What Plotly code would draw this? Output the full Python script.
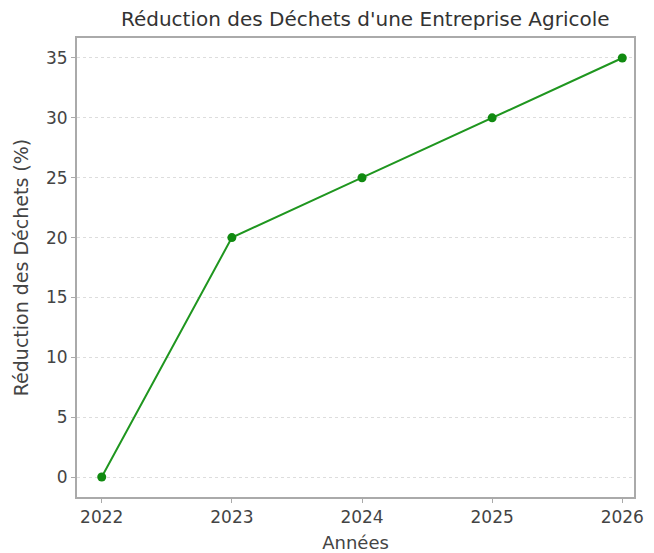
import plotly.graph_objects as go

annees = [2022, 2023, 2024, 2025, 2026]
reduction = [0, 20, 25, 30, 35]
y_ticks = [0, 5, 10, 15, 20, 25, 30, 35]

fig = go.Figure()

fig.add_trace(go.Scatter(x=annees, y=reduction,
                         mode='lines+markers', name='Réduction',
                         line=dict(color='#1f961f', width=2),
                         marker=dict(color='#108a10', size=9)))

# la page ajoute 8px de marge au body : on compense
fig.update_layout(
    title=dict(text="Réduction des Déchets d'une Entreprise Agricole",
               x=0.553, xanchor='center', y=0.979, yanchor='middle',
               font=dict(size=20, color='#333333')),
    width=646, height=545,
    margin=dict(l=69, r=20, t=30, b=56),
    plot_bgcolor='white', paper_bgcolor='white',
    font=dict(family='DejaVu Sans', color='#444444'),
    showlegend=False,
)

fig.update_xaxes(range=[2021.81, 2026.09], tickvals=annees, automargin=False,
                 title=dict(text='Années', font=dict(size=18), standoff=12),
                 tickfont=dict(size=17),
                 showgrid=False, zeroline=False,
                 showline=True, linecolor='#aaaaaa', linewidth=2, mirror=True,
                 ticks='outside', ticklen=4, tickcolor='#aaaaaa')

fig.update_yaxes(range=[-1.67, 36.67], tickvals=y_ticks, automargin=False,
                 title=dict(text='Réduction des Déchets (%)', font=dict(size=19), standoff=12),
                 tickfont=dict(size=17),
                 showgrid=True, gridcolor='#dddddd', griddash='dot', gridwidth=1,
                 zeroline=False,
                 showline=True, linecolor='#aaaaaa', linewidth=2, mirror=True,
                 ticks='outside', ticklen=4, tickcolor='#aaaaaa')

fig.write_html("out.html")
